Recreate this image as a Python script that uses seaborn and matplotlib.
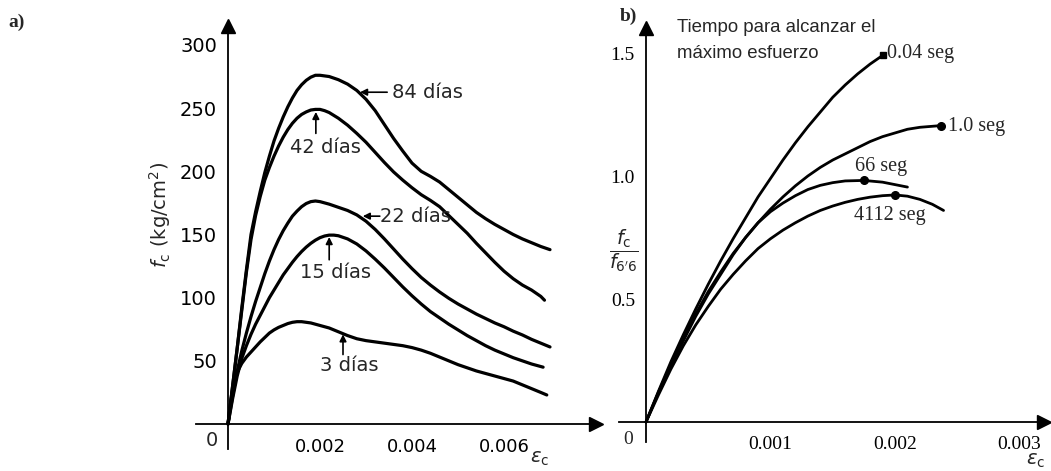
import numpy as np
import pandas as pd
import matplotlib
matplotlib.use('Agg')
import matplotlib.pyplot as plt
import seaborn as sns

# ---- panel a) stress-strain curves by age ----
x84 = [0, 0.0001, 0.0002, 0.0003, 0.0004, 0.0005, 0.0006, 0.0007, 0.0008, 0.0009, 0.001,
       0.0011, 0.0012, 0.0013, 0.0014, 0.0015, 0.0016, 0.0017, 0.0018, 0.0019, 0.002,
       0.0022, 0.0024, 0.0026, 0.0028, 0.003, 0.0032, 0.0034, 0.0036, 0.0038, 0.004,
       0.0042, 0.0044, 0.0046, 0.0048, 0.005, 0.0052, 0.0054, 0.0056, 0.0058, 0.006,
       0.0062, 0.0064, 0.0066, 0.0068, 0.007]
y84 = [0, 30, 60, 92, 122, 150, 168, 184, 199, 212, 224,
       234, 243, 251, 258, 264, 268.5, 272, 274.5, 276, 276,
       275, 272.5, 269, 264, 257, 248, 237, 226, 216, 206.5,
       200, 196, 191.5, 185.5, 179.5, 173.5, 167.5, 162.5, 158, 154,
       150, 146.5, 143.5, 140.5, 138]

x42 = [0, 0.0001, 0.0002, 0.0003, 0.0004, 0.0005, 0.0006, 0.0007, 0.0008, 0.0009, 0.001,
       0.0011, 0.0012, 0.0013, 0.0014, 0.0015, 0.0016, 0.0017, 0.0018, 0.0019, 0.002,
       0.0021, 0.0022, 0.0024, 0.0026, 0.0028, 0.003, 0.0032, 0.0034, 0.0036, 0.0038,
       0.004, 0.0042, 0.0044, 0.0046, 0.0048, 0.005, 0.0052, 0.0054, 0.0056, 0.0058,
       0.006, 0.0062, 0.0064, 0.0066, 0.0068, 0.00688]
y42 = [0, 30, 60, 90, 120, 146, 165, 180, 193, 203, 212,
       220, 227, 233, 238, 242, 245, 247, 248.5, 249, 249,
       248, 246.5, 242, 236.5, 230, 223, 215, 207, 199.5, 193,
       187, 181.5, 177, 172, 165, 158, 151, 143, 135.5, 128,
       121, 115, 110, 106, 101, 98]

x22 = [0, 0.0001, 0.0002, 0.0003, 0.0004, 0.0005, 0.0006, 0.0007, 0.0008, 0.0009, 0.001,
       0.0011, 0.0012, 0.0013, 0.0014, 0.0015, 0.0016, 0.0017, 0.0018, 0.0019, 0.002,
       0.0021, 0.0022, 0.0024, 0.0026, 0.0028, 0.003, 0.0032, 0.0034, 0.0036, 0.0038,
       0.004, 0.0042, 0.0044, 0.0046, 0.0048, 0.005, 0.0052, 0.0054, 0.0056, 0.0058,
       0.006, 0.0062, 0.0064, 0.0066, 0.0068, 0.007]
y22 = [0, 22, 42, 58, 72, 85, 97, 108, 119, 129, 138,
       146, 153, 159, 164.5, 168.5, 172, 174.5, 176, 176.5, 176,
       175, 174, 171.5, 169, 165.5, 160.5, 154, 146.5, 138.5, 130.5,
       123, 116, 110, 104.5, 99.5, 95, 91, 87, 83.5, 80,
       77, 73.5, 70.5, 67, 64, 61]

x15 = [0, 0.0001, 0.0002, 0.0003, 0.0004, 0.0005, 0.0006, 0.0007, 0.0008, 0.0009, 0.001,
       0.0011, 0.0012, 0.0013, 0.0014, 0.0015, 0.0016, 0.0017, 0.0018, 0.0019, 0.002,
       0.0021, 0.0022, 0.0023, 0.0024, 0.0026, 0.0028, 0.003, 0.0032, 0.0034, 0.0036,
       0.0038, 0.004, 0.0042, 0.0044, 0.0046, 0.0048, 0.005, 0.0052, 0.0054, 0.0056,
       0.0058, 0.006, 0.0062, 0.0064, 0.0066, 0.00685]
y15 = [0, 20, 38, 52, 62, 71, 79, 86, 93, 100, 106,
       112, 118, 123, 128, 132.5, 136.5, 140, 143, 145.5, 147.5,
       148.8, 149.5, 149.5, 149, 146.5, 142.5, 137, 130.5, 123.5, 116,
       108.5, 101.5, 95, 89, 84, 79, 74.5, 70, 66, 62,
       58.5, 55.5, 52.5, 50, 47.5, 45]

x3 = [0, 0.00005, 0.0001, 0.00015, 0.0002, 0.0003, 0.0004, 0.0005, 0.0006, 0.0007, 0.0008,
      0.0009, 0.001, 0.0011, 0.0012, 0.0013, 0.0014, 0.0015, 0.0016, 0.0017, 0.0018,
      0.0019, 0.002, 0.0022, 0.0024, 0.0026, 0.0028, 0.003, 0.0032, 0.0034, 0.0036,
      0.0038, 0.004, 0.0042, 0.0044, 0.0046, 0.0048, 0.005, 0.0052, 0.0054, 0.0056,
      0.0058, 0.006, 0.0062, 0.0064, 0.0066, 0.0068, 0.00693]
y3 = [0, 15, 27, 35, 41, 48, 53, 57, 61, 65, 68.5,
      72, 74.5, 76.5, 78, 79.5, 80.5, 81, 81, 80.5, 80,
      79, 78, 76, 73, 70, 67.5, 66, 65, 64, 63,
      62, 60.5, 58.5, 56, 53, 50, 47, 44.5, 42, 40,
      38, 36, 34, 31, 28, 25, 23]

ages = ['84 días', '42 días', '22 días', '15 días', '3 días']
curves_a = [(x84, y84), (x42, y42), (x22, y22), (x15, y15), (x3, y3)]

# ---- panel b) normalised curves by loading time ----
xb = [0, 0.0001, 0.0002, 0.0003, 0.0004, 0.0005, 0.0006, 0.0007, 0.0008, 0.0009, 0.001,
      0.0011, 0.0012, 0.0013, 0.0014, 0.0015, 0.0016, 0.0017, 0.0018, 0.0019]
y004 = [0, 0.125, 0.245, 0.355, 0.46, 0.56, 0.655, 0.745, 0.83, 0.915, 0.99,
        1.065, 1.135, 1.20, 1.26, 1.32, 1.37, 1.415, 1.455, 1.49]

x10 = [0, 0.0001, 0.0002, 0.0003, 0.0004, 0.0005, 0.0006, 0.0007, 0.0008, 0.0009, 0.001,
       0.0011, 0.0012, 0.0013, 0.0014, 0.0015, 0.0016, 0.0017, 0.0018, 0.0019, 0.002,
       0.0021, 0.0022, 0.00237]
y10 = [0, 0.12, 0.235, 0.34, 0.44, 0.53, 0.61, 0.685, 0.75, 0.81, 0.865,
       0.915, 0.96, 1.0, 1.035, 1.065, 1.09, 1.115, 1.14, 1.16, 1.175,
       1.19, 1.198, 1.205]

x66 = [0, 0.0001, 0.0002, 0.0003, 0.0004, 0.0005, 0.0006, 0.0007, 0.0008, 0.0009, 0.001,
       0.0011, 0.0012, 0.0013, 0.0014, 0.0015, 0.0016, 0.00175, 0.0019, 0.0021]
y66 = [0, 0.12, 0.23, 0.33, 0.43, 0.52, 0.6, 0.68, 0.75, 0.81, 0.855,
       0.89, 0.92, 0.945, 0.962, 0.973, 0.98, 0.982, 0.975, 0.955]

x4112 = [0, 0.0001, 0.0002, 0.0003, 0.0004, 0.0005, 0.0006, 0.0007, 0.0008, 0.0009, 0.001,
         0.0011, 0.0012, 0.0013, 0.0014, 0.0015, 0.0016, 0.0017, 0.0018, 0.0019, 0.002,
         0.0021, 0.0022, 0.0023, 0.00239]
y4112 = [0, 0.11, 0.215, 0.31, 0.395, 0.47, 0.54, 0.6, 0.655, 0.705, 0.745,
         0.78, 0.81, 0.837, 0.86, 0.878, 0.893, 0.905, 0.914, 0.92, 0.923,
         0.918, 0.905, 0.885, 0.86]

times = ['0.04 seg', '1.0 seg', '66 seg', '4112 seg']
curves_b = [(xb, y004), (x10, y10), (x66, y66), (x4112, y4112)]
# marked points (end or maximum of each curve)
mark_x = [0.0019, 0.00237, 0.00175, 0.002]
mark_y = [1.49, 1.205, 0.982, 0.923]
mark_style = ['s', 'o', 'o', 'o']

sns.set_style('white')
plt.rcParams['font.family'] = ['DejaVu Sans']

W, H = 1051, 471
fig = plt.figure(figsize=(W / 100, H / 100), dpi=100)


def fx(px):
    return px / W


def fy(py):
    return 1 - py / H


def setup_axes(ax, xlim, ylim):
    ax.set_xlim(*xlim)
    ax.set_ylim(*ylim)
    for s in ['top', 'right']:
        ax.spines[s].set_visible(False)
    for s in ['left', 'bottom']:
        ax.spines[s].set_position(('data', 0))
        ax.spines[s].set_color('black')
        ax.spines[s].set_linewidth(1.3)
    ax.plot(1, 0, '>', color='black', markersize=10, transform=ax.get_yaxis_transform(), clip_on=False)
    ax.plot(0, 1, '^', color='black', markersize=10, transform=ax.get_xaxis_transform(), clip_on=False)
    ax.tick_params(direction='in', length=6, width=1.2, colors='black')
    ax.set_xlabel('')
    ax.set_ylabel('')


# ---------------- panel a ----------------
ax1 = fig.add_axes([fx(195.8), fy(449.3), (596 - 195.8) / W, (449.3 - 26) / H])
df_a = pd.concat([pd.DataFrame({'eps': x, 'fc': y, 'edad': a}) for a, (x, y) in zip(ages, curves_a)])
sns.lineplot(data=df_a, x='eps', y='fc', hue='edad', units='edad', estimator=None, sort=False,
             palette={a: 'black' for a in ages}, linewidth=2.3, legend=False, ax=ax1)
for ln in ax1.lines:
    ln.set_solid_joinstyle('round')
    ln.set_solid_capstyle('round')
setup_axes(ax1, (-0.0007, 0.0080), (-20, 315))
ax1.set_xticks([0.001, 0.002, 0.003, 0.004, 0.005, 0.006, 0.007])
ax1.set_xticklabels(['', '0.002', '', '0.004', '', '0.006', ''], fontsize=13)
ax1.set_yticks([50, 100, 150, 200, 250, 300])
ax1.set_yticklabels(['50', '100', '150', '200', '250', '300'], fontsize=14)
ax1.tick_params(axis='x', pad=10)
ax1.tick_params(axis='y', pad=8)

arrow = dict(arrowstyle='-|>', color='black', lw=1.2, mutation_scale=10, shrinkA=0, shrinkB=0)
lab = dict(fontsize=14)
ax1.annotate('', xy=(0.00287, 262.6), xytext=(0.00346, 262.6), arrowprops=arrow)
ax1.text(0.00357, 262.6, '84 días', va='center', ha='left', **lab)
ax1.annotate('', xy=(0.00191, 247), xytext=(0.00191, 230), arrowprops=arrow)
ax1.text(0.00211, 219, '42 días', va='center', ha='center', **lab)
ax1.annotate('', xy=(0.00293, 164.5), xytext=(0.0033, 164.5), arrowprops=arrow)
ax1.text(0.00331, 164.5, '22 días', va='center', ha='left', **lab)
ax1.annotate('', xy=(0.0022, 148), xytext=(0.0022, 130), arrowprops=arrow)
ax1.text(0.00233, 120, '15 días', va='center', ha='center', **lab)
ax1.annotate('', xy=(0.0025, 71), xytext=(0.0025, 55), arrowprops=arrow)
ax1.text(0.00263, 46, '3 días', va='center', ha='center', **lab)

fig.text(fx(212), fy(440), '0', fontsize=14, ha='center', va='center')
fig.text(fx(160), fy(215), r'$f_{\rm c}$ (kg/cm$^2$)', fontsize=14, rotation=90, ha='center', va='center')
fig.text(fx(540), fy(459), r'$\varepsilon_{\rm c}$', fontsize=14, ha='center', va='center')
fig.text(fx(8), fy(22), 'a)', fontsize=14, fontweight='bold', family='Liberation Serif', ha='left', va='center')

# ---------------- panel b ----------------
ax2 = fig.add_axes([fx(618.6), fy(441.7), (1044.4 - 618.6) / W, (441.7 - 28.4) / H])
df_b = pd.concat([pd.DataFrame({'eps': x, 'ratio': y, 'tiempo': t}) for t, (x, y) in zip(times, curves_b)])
sns.lineplot(data=df_b, x='eps', y='ratio', hue='tiempo', units='tiempo', estimator=None, sort=False,
             palette={t: 'black' for t in times}, linewidth=2.0, legend=False, ax=ax2)
for ln in ax2.lines:
    ln.set_solid_joinstyle('round')
for mx, my, ms in zip(mark_x, mark_y, mark_style):
    ax2.plot(mx, my, ms, color='black', markersize=5 if ms == 's' else 5.5)
setup_axes(ax2, (-0.00022, 0.0032), (-0.08, 1.6))
ax2.set_xticks([0.001, 0.002, 0.003])
ax2.set_xticklabels(['0.001', '0.002', '0.003'], fontsize=14, family='Liberation Serif')
ax2.set_yticks([0.5, 1.0, 1.5])
ax2.set_yticklabels(['0.5', '1.0', '1.5'], fontsize=14, family='Liberation Serif')
ax2.tick_params(axis='x', pad=10)
ax2.tick_params(axis='y', pad=8)

ser = dict(fontsize=14.5, family='Liberation Serif')
ax2.text(0.001936, 1.5, '0.04 seg', va='center', ha='left', **ser)
ax2.text(0.002426, 1.203, '1.0 seg', va='center', ha='left', **ser)
ax2.text(0.00189, 1.037, '66 seg', va='center', ha='center', **ser)
ax2.text(0.00196, 0.841, '4112 seg', va='center', ha='center', **ser)

fig.text(fx(677), fy(27), 'Tiempo para alcanzar el', fontsize=13.4, family='Liberation Sans', ha='left', va='center')
fig.text(fx(677), fy(53), 'máximo esfuerzo', fontsize=13.4, family='Liberation Sans', ha='left', va='center')
fig.text(fx(628), fy(440), '0', fontsize=14, family='Liberation Serif', ha='center', va='center')
fig.text(fx(624), fy(251), r"$\dfrac{f_{\rm c}}{f_{6'6}}$", fontsize=14, ha='center', va='center')
fig.text(fx(1036), fy(461), r'$\varepsilon_{\rm c}$', fontsize=14, ha='center', va='center')
fig.text(fx(628), fy(16), 'b)', fontsize=14, fontweight='bold', family='Liberation Serif', ha='center', va='center')

fig.savefig('out.png', dpi=100)
